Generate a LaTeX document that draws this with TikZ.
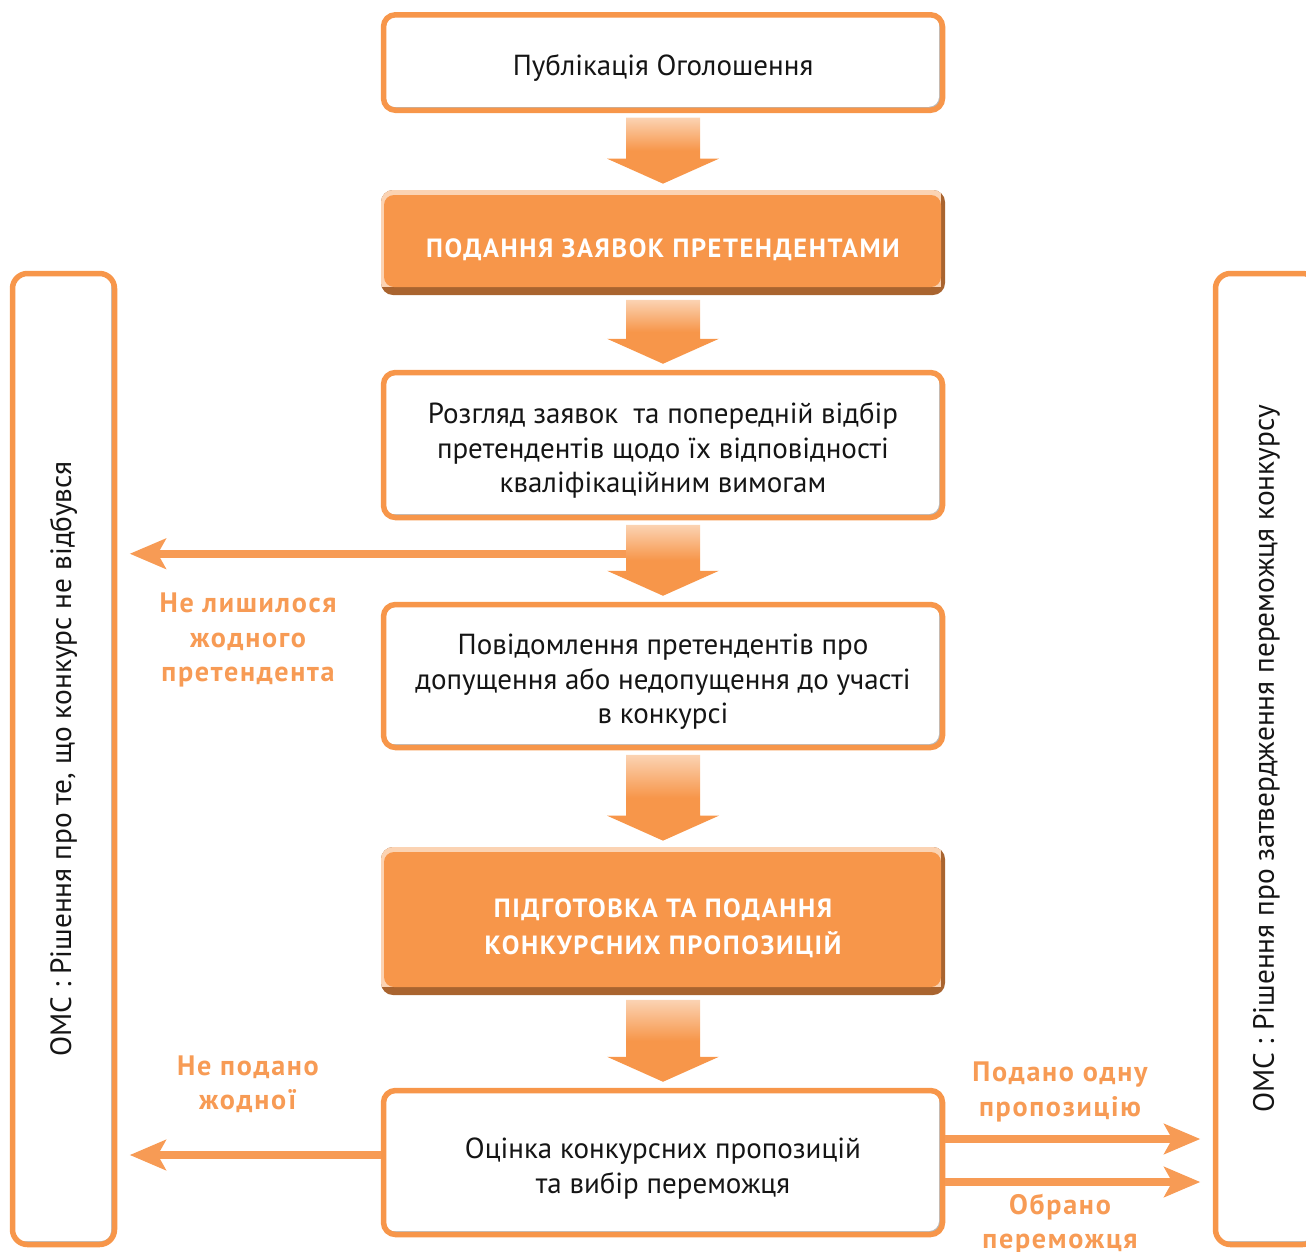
\documentclass[tikz,border=0pt]{standalone}
\usepackage{fontspec}
\setmainfont{PT Sans}
\newfontfamily\capsfont[LetterSpace=6]{PT Sans}
\usetikzlibrary{arrows.meta,positioning,calc}
\definecolor{omcorange}{HTML}{F7964A}
\definecolor{omcpeach}{HTML}{FBD3B3}
\definecolor{omcbrown}{HTML}{A9642F}
\definecolor{omclabel}{HTML}{F79B55}
\definecolor{omctext}{HTML}{151515}
\newcommand{\steplift}{\rule{0pt}{18.5pt}}
\tikzset{
  stepbox/.style={
    rounded corners=0.24cm,
    draw=omcorange,
    fill=white,
    line width=0.11cm,
    minimum width=11.18cm,
    align=center,
    text=omctext,
    font=\fontsize{16.5}{19.6}\selectfont,
    path picture={
      \fill[black!28,sharp corners] (path picture bounding box.south west) rectangle (path picture bounding box.north east);
      \fill[white,rounded corners=0.2cm] (path picture bounding box.north west) rectangle ([shift={(-0.07,0.07)}]path picture bounding box.south east);
    }
  },
  mainbox/.style={
    rounded corners=0.24cm,
    fill=omcbrown,
    minimum width=11.28cm,
    align=center,
    text=white,
    font=\capsfont\bfseries\fontsize{15}{21}\selectfont,
    path picture={
      \fill[omcpeach,sharp corners] (path picture bounding box.north west) rectangle ([shift={(-0.08,0.16)}]path picture bounding box.south east);
      \fill[omcorange,rounded corners=0.2cm] ([shift={(0.06,-0.1)}]path picture bounding box.north west) rectangle ([shift={(-0.08,0.16)}]path picture bounding box.south east);
    }
  },
  sidebox/.style={
    stepbox,
    rounded corners=0.3cm,
    minimum width=2.04cm,
    minimum height=19.42cm
  },
  sidetext/.style={
    rotate=90,
    text=omctext,
    font=\fontsize{16.7}{19.6}\selectfont
  },
  sidelabel/.style={
    align=center,
    text=omclabel,
    font=\capsfont\bfseries\fontsize{16}{19.6}\selectfont
  },
  sidearrow/.style={
    draw=omclabel,
    line width=0.17cm,
    -{Stealth[length=0.72cm,width=0.6cm,inset=0.16cm]},
    shorten >=0.25cm
  }
}
\newcommand{\flowarrow}[2]{%
  \shade[top color=omcpeach,bottom color=omcorange,middle color=omcorange]
    ($(#1.south)+(-0.74,-0.09)$) -- ($(#1.south)+(0.74,-0.09)$)
    -- ($(#2.north)+(0.74,0.62)$) -- ($(#2.north)+(1.12,0.62)$)
    -- ($(#2.north)+(0,0.12)$) -- ($(#2.north)+(-1.12,0.62)$)
    -- ($(#2.north)+(-0.74,0.62)$) -- cycle;}

\begin{document}
\begin{tikzpicture}
\useasboundingbox (0,0) rectangle (26.12,-25.02);
\clip (0,0) rectangle (26.12,-25.02);
\node[stepbox, minimum height=1.91cm] (publ) at (13.26,-1.25) {\steplift Публікація Оголошення};
\node[mainbox, minimum height=2.1cm] (submit) at (13.26,-4.85) {\steplift ПОДАННЯ ЗАЯВОК ПРЕТЕНДЕНТАМИ};
\node[stepbox, minimum height=2.9cm] (review) at (13.26,-8.9) {\steplift Розгляд заявок\ \ та попередній відбір\\претендентів щодо їх відповідності\\кваліфікаційним вимогам};
\node[stepbox, minimum height=2.86cm] (notify) at (13.26,-13.52) {\steplift Повідомлення претендентів про\\допущення або недопущення до участі\\в конкурсі};
\node[mainbox, minimum height=2.96cm] (propose) at (13.26,-18.42) {\steplift ПІДГОТОВКА ТА ПОДАННЯ\\КОНКУРСНИХ ПРОПОЗИЦІЙ};
\node[stepbox, minimum height=2.88cm] (eval) at (13.26,-23.25) {\steplift Оцінка конкурсних пропозицій\\та вибір переможця};
\node[sidebox] (omcno) at (1.27,-15.18) {};
\node[sidebox] (omcyes) at (25.33,-15.18) {};
\node[sidetext] (omcnotext) at (omcno.center) {ОМС : Рішення про те, що конкурс не відбувся};
\node[sidetext] (omcyestext) at (omcyes.center) {ОМС : Рішення про затвердження переможця конкурсу};
\node[sidelabel] (nocand) at (4.96,-12.8) {Не лишилося\\жодного\\претендента};
\node[sidelabel] (nosub) at (4.96,-21.68) {Не подано\\жодної};
\node[sidelabel] (onesub) at (21.2,-21.84) {Подано одну\\пропозицію};
\node[sidelabel] (winner) at (21.2,-24.48) {Обрано\\переможця};
\coordinate (split) at ($(review.south)+(-0.7,-0.67)$);
\draw[sidearrow] (split) -- (split -| omcno.east);
\draw[sidearrow] ([yshift=0.15cm]eval.west) -- ([yshift=0.15cm]eval.west -| omcno.east);
\draw[sidearrow] ([yshift=0.47cm]eval.east) -- ([yshift=0.47cm]eval.east -| omcyes.west);
\draw[sidearrow] ([yshift=-0.39cm]eval.east) -- ([yshift=-0.39cm]eval.east -| omcyes.west);
\flowarrow{publ}{submit}
\flowarrow{submit}{review}
\flowarrow{review}{notify}
\flowarrow{notify}{propose}
\flowarrow{propose}{eval}
\end{tikzpicture}
\end{document}
